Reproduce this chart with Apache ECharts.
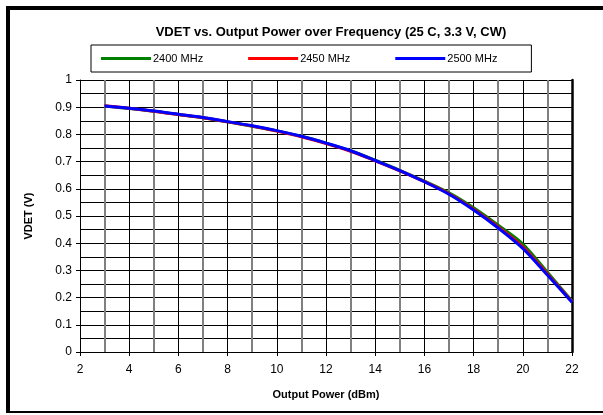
<!DOCTYPE html>
<html>
<head>
<meta charset="utf-8">
<script src="https://cdn.jsdelivr.net/npm/echarts@6/dist/echarts.min.js"></script>
<style>
  html, body { margin: 0; padding: 0; background: #fff; }
  #chart { width: 603px; height: 415px; }
</style>
</head>
<body>
<div id="chart"></div>
<script>
// output power (dBm)
var powerDbm = [3, 4, 5, 6, 7, 8, 9, 10, 11, 12, 13, 14, 15, 16, 17, 18, 19, 20, 21, 22]
// VDET (V) per frequency
var vdet2400 = [0.904, 0.895, 0.885, 0.873, 0.861, 0.846, 0.830, 0.813, 0.793, 0.768, 0.740, 0.705, 0.668, 0.628, 0.585, 0.530, 0.466, 0.397, 0.293, 0.188]
var vdet2450 = [0.905, 0.896, 0.885, 0.873, 0.861, 0.846, 0.831, 0.812, 0.791, 0.766, 0.738, 0.703, 0.666, 0.626, 0.582, 0.525, 0.460, 0.387, 0.287, 0.185]
var vdet2500 = [0.904, 0.896, 0.886, 0.874, 0.862, 0.847, 0.832, 0.814, 0.793, 0.768, 0.740, 0.704, 0.667, 0.626, 0.580, 0.522, 0.456, 0.381, 0.283, 0.183]
var seriesNames = ['2400 MHz', '2450 MHz', '2500 MHz']
var seriesColors = ['#008000', '#ff0000', '#0000ff']

var font = "'Liberation Sans', Arial, sans-serif"

function pairs(ys) {
  return powerDbm.map(function(x, i) { return [x, ys[i]] })
}

var chart = echarts.init(document.getElementById('chart'))
var allData = [vdet2400, vdet2450, vdet2500]
var seriesArr = allData.map(function(d, i) {
  return {
    name: seriesNames[i],
    type: 'line',
    data: pairs(d),
    symbol: 'none',
    smooth: 0.3,
    lineStyle: { width: 3, color: seriesColors[i] },
    itemStyle: { color: seriesColors[i] },
    z: 3 + i
  }
})

chart.setOption({
  animation: false,
  backgroundColor: '#fff',
  textStyle: { fontFamily: font },
  title: {
    text: 'VDET vs. Output Power over Frequency (25 C, 3.3 V, CW)',
    left: 326,
    top: 21,
    textAlign: 'center',
    textStyle: { fontSize: 13, fontWeight: 'bold', color: '#000', fontFamily: font }
  },
  legend: {
    data: seriesNames,
    left: 91,
    top: 45,
    icon: 'rect',
    itemWidth: 50,
    itemHeight: 3,
    itemGap: 45,
    padding: [7, 34, 7, 10],
    borderColor: '#000',
    borderWidth: 1,
    backgroundColor: '#fff',
    textStyle: { fontSize: 11, color: '#000', fontFamily: font, padding: [0, 0, 0, -3], lineHeight: 13 }
  },
  grid: { left: 80, right: 31, top: 80, bottom: 63, containLabel: false },
  xAxis: {
    type: 'value',
    min: 2,
    max: 22,
    interval: 2,
    name: 'Output Power (dBm)',
    nameLocation: 'middle',
    nameGap: 37,
    nameTextStyle: { fontSize: 11, fontWeight: 'bold', color: '#000', fontFamily: font },
    axisLine: { lineStyle: { color: '#000', width: 1 } },
    axisTick: { show: true, length: 4, lineStyle: { color: '#000' } },
    axisLabel: { fontSize: 12, color: '#000', margin: 12, fontFamily: font },
    splitLine: { show: true, lineStyle: { color: '#000', width: 1 } },
    minorTick: { show: false, splitNumber: 2 },
    minorSplitLine: { show: true, lineStyle: { color: '#808080', width: 2 } }
  },
  yAxis: [{
    type: 'value',
    min: 0,
    max: 1,
    interval: 0.1,
    name: 'VDET (V)',
    nameLocation: 'middle',
    nameGap: 46,
    nameTextStyle: { fontSize: 11, fontWeight: 'bold', color: '#000', fontFamily: font },
    axisLine: { show: true, lineStyle: { color: '#000', width: 1 } },
    axisTick: { show: true, length: 4, lineStyle: { color: '#000' } },
    axisLabel: { fontSize: 12, color: '#000', margin: 8, fontFamily: font },
    splitLine: { show: true, lineStyle: { color: '#000', width: 1 } },
    minorTick: { show: false, splitNumber: 2 },
    minorSplitLine: { show: true, lineStyle: { color: '#000', width: 1 } }
  }, {
    type: 'value',
    min: 0,
    max: 1,
    position: 'right',
    axisLine: { show: true, lineStyle: { color: '#000', width: 2.5 } },
    axisTick: { show: false },
    axisLabel: { show: false },
    splitLine: { show: false }
  }],
  graphic: [
    { type: 'line', shape: { x1: 8, y1: 6, x2: 8, y2: 413 }, style: { stroke: '#000', lineWidth: 4 } },
    { type: 'line', shape: { x1: 6, y1: 8, x2: 603, y2: 8 }, style: { stroke: '#000', lineWidth: 4 } },
    { type: 'line', shape: { x1: 6, y1: 412, x2: 603, y2: 412 }, style: { stroke: '#000', lineWidth: 2 } }
  ],
  series: seriesArr
})
</script>
</body>
</html>
